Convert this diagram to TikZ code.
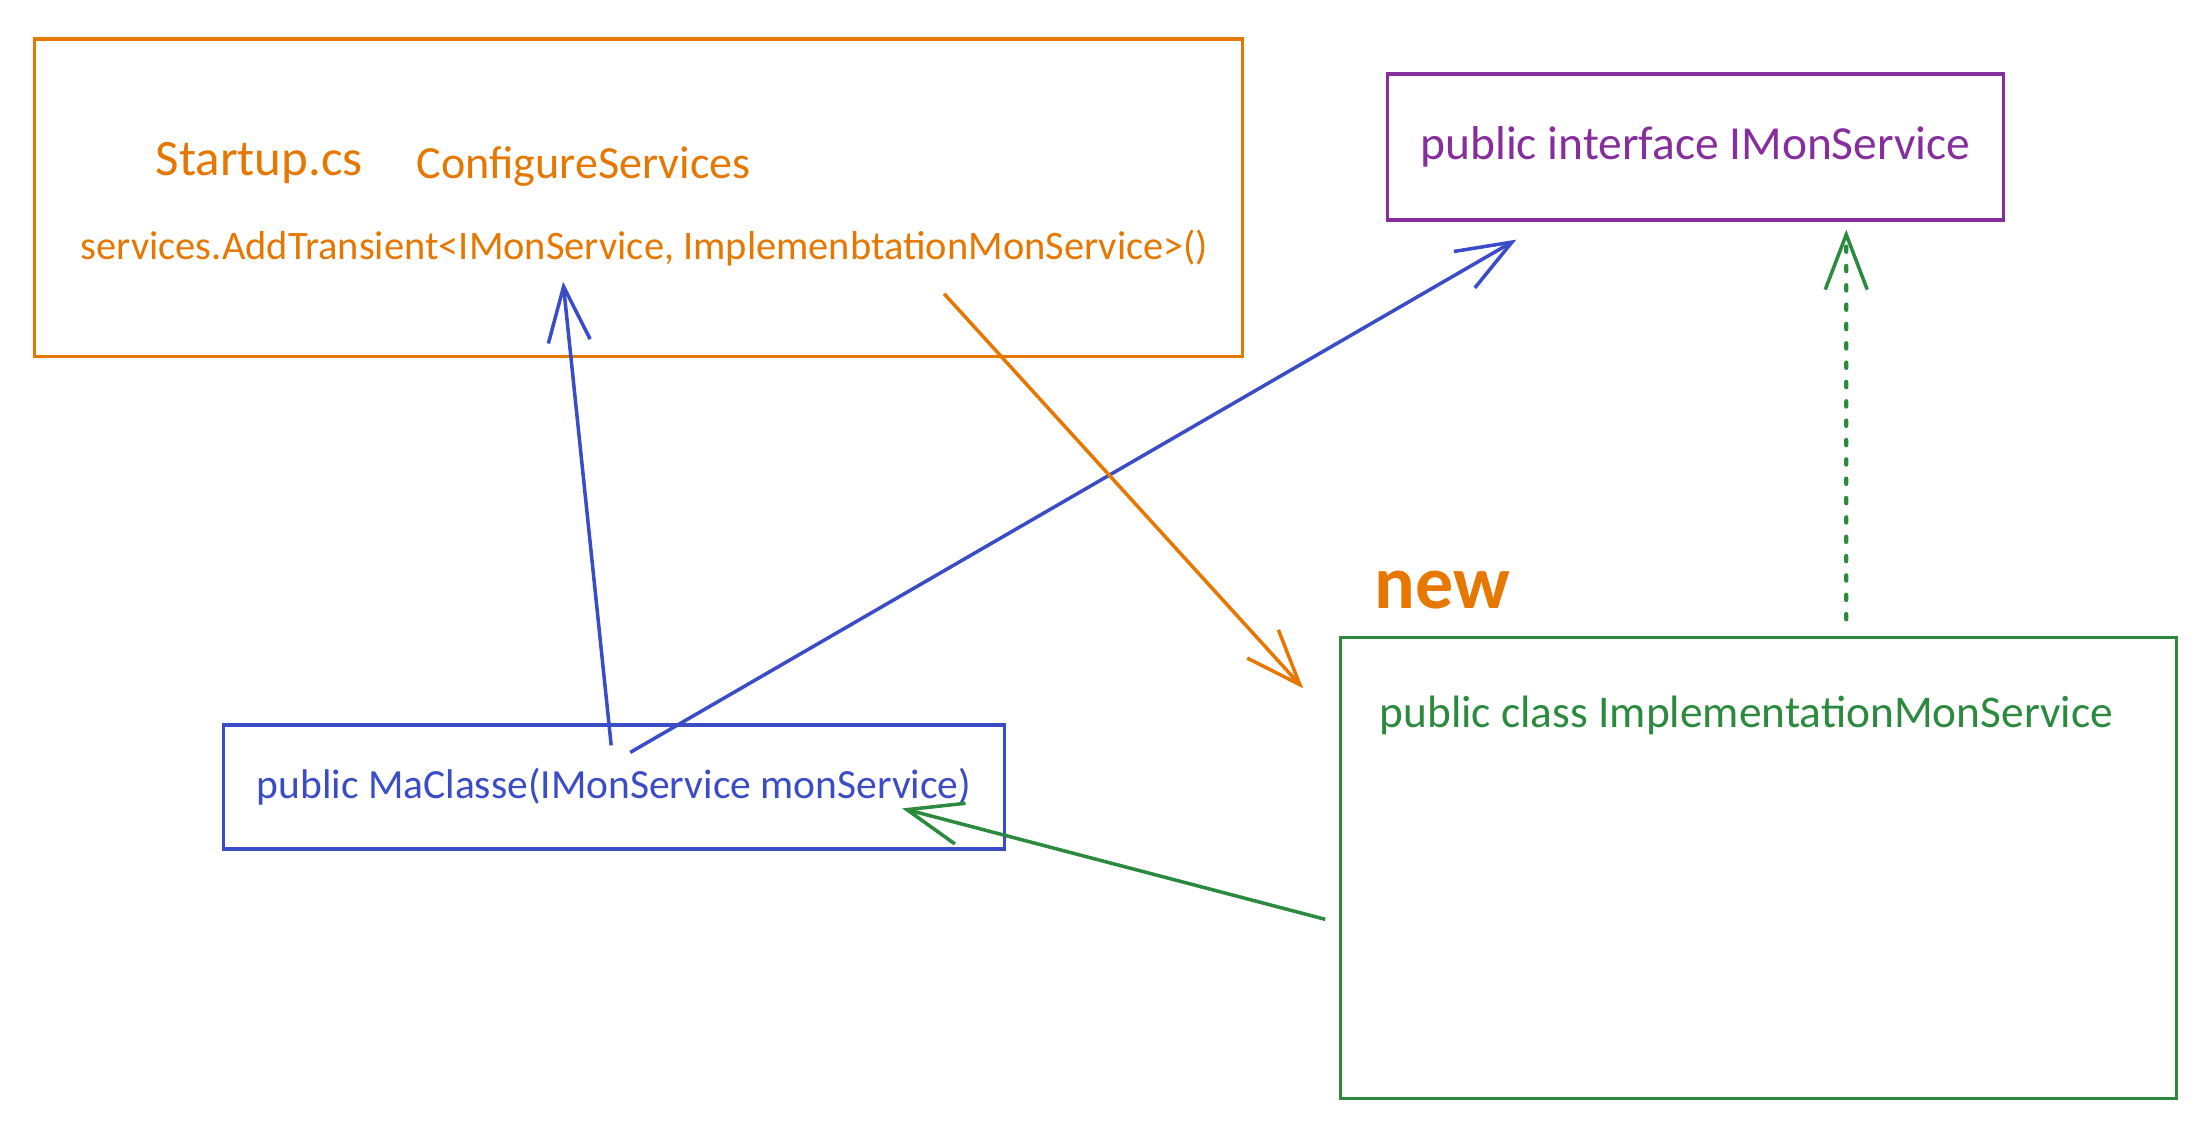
\documentclass[tikz,border=0pt]{standalone}
\usepackage{fontspec}
\setmainfont{Carlito}
\usetikzlibrary{positioning,arrows.meta,calc}
\definecolor{exOrange}{HTML}{E67700}
\definecolor{exBlue}{HTML}{3B4CC7}
\definecolor{exGreen}{HTML}{2B8A3E}
\definecolor{exPurple}{HTML}{862E9C}

\begin{document}
\begin{tikzpicture}[x=0.01cm, y=-0.01cm, font=\fontsize{12}{14}\selectfont,
  frame/.style={draw, line width=0.9pt, inner sep=0pt},
  txt/.style={inner sep=0pt, anchor=west},
  link/.style={line width=1pt, -{Straight Barb[length=5.5mm, width=4.2mm, line width=1pt]}}]
\useasboundingbox (0,0) rectangle (2198,1138);
\node[frame, exOrange, minimum width=12.07cm, minimum height=3.17cm] (startup) at (638.5,197.5) {};
\node[txt, exOrange, font=\fontsize{14.5}{17}\selectfont] (startupcs) at (155,163) {Startup.cs};
\node[txt, exOrange, font=\fontsize{13.1}{16}\selectfont] (configure) at (416,167) {ConfigureServices};
\node[txt, exOrange, font=\fontsize{11.5}{14}\selectfont] (services) at (80,248) {services.AddTransient<IMonService, ImplemenbtationMonService>()};
\node[frame, exPurple, minimum width=6.15cm, minimum height=1.46cm, font=\fontsize{13.5}{16}\selectfont] (iface) at (1695.5,147) {public interface IMonService};
\node[frame, exBlue, minimum width=7.80cm, minimum height=1.24cm, font=\fontsize{11.8}{14}\selectfont] (ctor) at (614,787) {public MaClasse(IMonService monService)};
\node[frame, exGreen, minimum width=8.35cm, minimum height=4.60cm] (impl) at (1758.5,868) {};
\node[txt, exGreen, font=\fontsize{12.9}{15}\selectfont] (implname) at (1379,715) {public class ImplementationMonService};
\node[txt, exOrange, font=\fontsize{21.6}{26}\selectfont\bfseries] (new) at (1374,590) {new};
\draw[link, exBlue] ($(ctor.north west)+(389,22)$) -- ($(startup.south west)+(530,-76)$);
\draw[link, exBlue] ($(ctor.north west)+(408,29)$) -- ($(iface.south west)+(130,18)$);
\draw[link, exOrange] ($(startup.south west)+(911,-64)$) -- ($(impl.north west)+(-36,52)$);
\draw[link, exGreen] ($(impl.north west)+(-14,283)$) -- ($(ctor.north west)+(680,85)$);
\draw[link, exGreen, line cap=round, dash pattern=on 1.5pt off 4pt, line width=1.2pt] ($(impl.north west)+(507,-17)$) -- ($(iface.south west)+(460,8)$);
\end{tikzpicture}
\end{document}
